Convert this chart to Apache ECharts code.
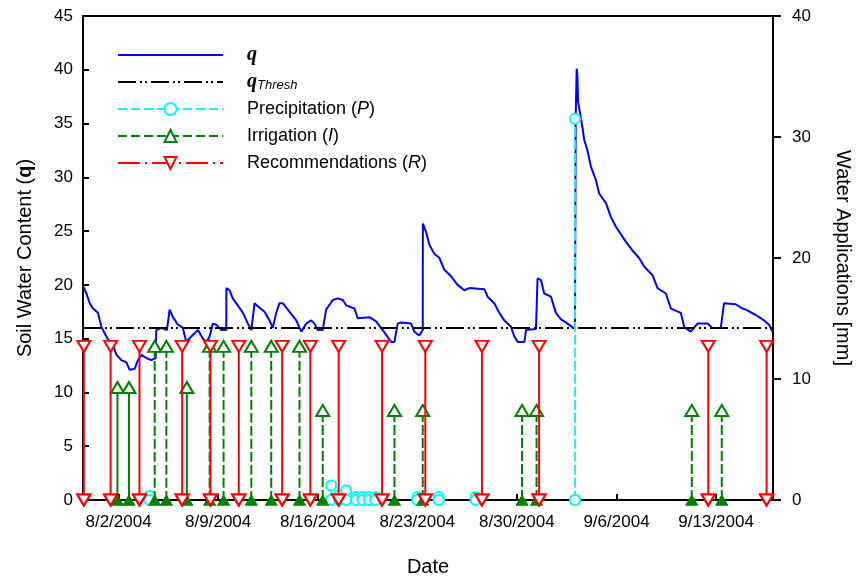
<!DOCTYPE html>
<html><head><meta charset="utf-8">
<script src="https://cdn.jsdelivr.net/npm/echarts@6/dist/echarts.min.js"></script>
<style>html,body{margin:0;padding:0;background:#fff}#c{width:857px;height:580px}</style>
</head><body><div id="c"></div>
<script>
// x values are days relative to 8/2/2004 (0 = 8/2/2004 00:00)
const xMin = -2.5, xMax = 46;
const xTickDays = [0, 7, 14, 21, 28, 35, 42];
const xTickLabels = ['8/2/2004', '8/9/2004', '8/16/2004', '8/23/2004', '8/30/2004', '9/6/2004', '9/13/2004'];

const thetaDays = [-2.50,-2.26,-2.03,-1.80,-1.45,-1.21,-0.86,-0.63,-0.39,-0.15,0.20,0.55,0.78,1.13,1.36,1.60,1.95,2.30,2.61,2.65,3.01,3.40,3.59,3.82,4.17,4.52,4.76,5.11,5.58,5.93,6.17,6.40,6.63,6.87,7.22,7.57,7.58,7.80,8.03,8.38,8.74,9.09,9.33,9.44,9.56,9.79,10.26,10.61,10.84,11.08,11.31,11.54,12.02,12.49,12.84,13.19,13.54,13.77,14.00,14.35,14.59,15.06,15.41,15.76,16.00,16.58,16.81,17.63,18.10,18.57,19.16,19.39,19.62,19.86,20.56,20.79,21.14,21.38,21.39,21.62,21.85,22.20,22.55,22.90,23.37,23.83,24.30,24.66,25.71,25.94,26.41,26.76,27.11,27.58,27.82,28.05,28.52,28.64,29.34,29.45,29.69,29.92,30.39,30.74,31.10,31.56,31.91,32.08,32.13,32.20,32.25,32.30,32.40,32.50,32.61,32.73,32.96,33.20,33.55,33.78,34.26,34.61,34.96,35.66,36.12,36.59,36.95,37.53,37.88,38.47,38.82,39.52,39.76,40.22,40.69,41.39,41.74,42.33,42.56,43.38,43.85,44.09,44.79,45.37,45.72,45.96];
const thetaValues = [19.9,19.2,18.3,17.8,17.4,16.1,15.2,14.7,14.4,13.5,13.0,12.8,12.1,12.2,13.0,13.5,13.2,13.0,13.2,15.8,16.0,15.8,17.7,17.0,16.3,16.0,14.7,15.2,15.8,15.0,14.7,15.2,16.4,16.3,15.8,15.8,19.7,19.5,18.75,18.1,17.4,16.4,15.8,15.8,18.3,18.0,17.5,16.7,16.0,17.4,18.3,18.3,17.5,16.7,15.65,16.4,16.7,16.4,15.8,15.8,17.7,18.6,18.75,18.6,18.1,17.8,16.9,17.0,16.6,15.8,14.7,14.7,16.4,16.5,16.4,15.65,15.3,15.8,25.7,24.9,23.7,22.9,22.5,21.4,20.8,20.0,19.5,19.7,19.6,18.9,18.3,17.4,16.7,16.1,15.2,14.7,14.7,15.8,15.9,20.6,20.45,19.2,18.9,17.4,16.8,16.4,16.05,15.9,35.5,40.1,39.5,37.0,37.0,35.5,34.6,33.5,32.5,31.0,29.75,28.5,27.6,26.3,25.4,24.0,23.2,22.5,21.7,20.9,19.7,19.2,17.8,17.4,16.1,15.65,16.4,16.4,16.0,16.0,18.3,18.2,17.8,17.7,17.2,16.7,16.3,15.65];

const thresholdValue = 16;

const precipDays = [2.18,14.94,15.52,16.00,16.70,17.15,17.60,18.05,21.00,22.50,25.10,32.08];
const precipValues = [0.33,1.2,0.4,0.8,0.25,0.25,0.25,0.25,0.25,0.25,0.25,31.5];

const irrigDays = [-0.08,0.73,2.54,3.36,4.80,6.40,7.38,9.33,10.73,12.72,14.35,19.39,21.38,28.36,29.38,40.29,42.40];
const irrigValues = [9.3,9.3,12.7,12.7,9.3,12.7,12.7,12.7,12.7,12.7,7.4,7.4,7.4,7.4,7.4,7.4,7.4];

const recDays = [-2.44,-0.56,1.47,4.47,6.46,8.45,11.50,13.48,15.47,18.52,21.56,25.54,29.56,41.45,45.55];
const recValues = [12.7,12.7,12.7,12.7,12.7,12.7,12.7,12.7,12.7,12.7,12.7,12.7,12.7,12.7,12.7];

function stems(days, vals, bottomExtra) {
  const out = [];
  days.forEach((d, i) => {
    out.push(bottomExtra ? Object.assign({ value: [d, 0] }, bottomExtra) : [d, 0]);
    out.push([d, vals[i]]);
    out.push(bottomExtra ? Object.assign({ value: [d, 0] }, bottomExtra) : [d, 0]);
    out.push([d, null]);
  });
  return out;
}

const FONT = 'Liberation Sans, Arial, sans-serif';
const chart = echarts.init(document.getElementById('c'), null, { renderer: 'canvas' });
const legendFmt = {
  'q': '{qb|q}',
  'qThresh': '{qb|q}{sub|Thresh}',
  'Precipitation (P)': 'Precipitation ({it|P})',
  'Irrigation (I)': 'Irrigation ({it|I})',
  'Recommendations (R)': 'Recommendations ({it|R})'
};
chart.setOption({
  animation: false,
  backgroundColor: '#fff',
  grid: { left: 83, right: 84, top: 16, bottom: 80, show: true, borderColor: '#000', borderWidth: 2, backgroundColor: 'transparent', outerBoundsMode: 'none', containLabel: false },
  legend: {
    orient: 'vertical', left: 117, top: 45, padding: 0, itemWidth: 105, itemHeight: 15, itemGap: 7,
    data: [
      { name: 'q', itemStyle: { opacity: 0 } },
      { name: 'qThresh', itemStyle: { opacity: 0 } },
      'Precipitation (P)', 'Irrigation (I)', 'Recommendations (R)'
    ],
    formatter: n => legendFmt[n],
    textStyle: {
      fontSize: 18, fontFamily: FONT, color: '#000', lineHeight: 20, padding: [0, 0, 0, 19],
      rich: {
        qb: { fontFamily: 'Liberation Serif, Times New Roman, serif', fontWeight: 'bold', fontStyle: 'italic', fontSize: 20, color: '#000' },
        sub: { fontFamily: FONT, fontStyle: 'italic', fontSize: 13, color: '#000', verticalAlign: 'bottom', padding: [8, 0, 0, 0] },
        it: { fontFamily: FONT, fontStyle: 'italic', fontSize: 18, color: '#000' }
      }
    }
  },
  xAxis: {
    type: 'value', min: xMin, max: xMax,
    name: 'Date', nameLocation: 'middle', nameGap: 57,
    nameTextStyle: { fontSize: 20, fontFamily: FONT, color: '#000' },
    axisLine: { onZero: false, lineStyle: { color: '#000', width: 2 } },
    axisTick: { inside: true, length: 6, customValues: xTickDays, lineStyle: { color: '#000', width: 2 } },
    axisLabel: { customValues: xTickDays, formatter: v => xTickLabels[xTickDays.indexOf(v)] || '', fontSize: 17, fontFamily: FONT, color: '#000', margin: 14 },
    splitLine: { show: false }
  },
  yAxis: [
    {
      type: 'value', min: 0, max: 45, interval: 5, position: 'left',
      name: 'Soil Water Content ({b|q})', nameLocation: 'middle', nameGap: 48,
      nameTextStyle: { fontSize: 20, fontFamily: FONT, color: '#000', rich: { b: { fontSize: 20, fontWeight: 'bold', fontFamily: FONT, color: '#000' } } },
      axisLine: { show: true, onZero: false, lineStyle: { color: '#000', width: 2 } },
      axisTick: { inside: true, length: 6, lineStyle: { color: '#000', width: 2 } },
      axisLabel: { fontSize: 17, fontFamily: FONT, color: '#000', margin: 10 },
      splitLine: { show: false }
    },
    {
      type: 'value', min: 0, max: 40, interval: 10, position: 'right',
      name: 'Water Applications [mm]', nameLocation: 'middle', nameGap: 60, nameRotate: -90,
      nameTextStyle: { fontSize: 20, fontFamily: FONT, color: '#000' },
      axisLine: { show: true, onZero: false, lineStyle: { color: '#000', width: 2 } },
      axisTick: { inside: false, length: 8, lineStyle: { color: '#000', width: 2 } },
      axisLabel: { fontSize: 17, fontFamily: FONT, color: '#000', margin: 19 },
      splitLine: { show: false }
    }
  ],
  series: [
    {
      name: 'q', type: 'line', yAxisIndex: 0, symbol: 'none',
      data: thetaDays.map((d, i) => [d, thetaValues[i]]),
      lineStyle: { color: '#0000ff', width: 2 }, itemStyle: { color: '#0000ff' }, z: 2
    },
    {
      name: 'qThresh', type: 'line', yAxisIndex: 0, symbol: 'none',
      data: [[xMin, thresholdValue], [xMax, thresholdValue]],
      lineStyle: { color: '#000', width: 2, type: [18, 4, 2, 3, 2, 4] }, itemStyle: { color: '#000' }, z: 2
    },
    {
      name: 'Precipitation (P)', type: 'line', yAxisIndex: 1, symbol: 'emptyCircle', symbolSize: 10,
      data: stems(precipDays, precipValues), connectNulls: false,
      lineStyle: { color: '#00ffff', width: 2, type: [9, 4] }, itemStyle: { color: '#00ffff', borderWidth: 2 }, z: 3
    },
    {
      name: 'Irrigation (I)', type: 'line', yAxisIndex: 1, symbol: 'emptyTriangle', symbolSize: [13, 11],
      data: stems(irrigDays, irrigValues, { symbol: 'triangle' }), connectNulls: false,
      lineStyle: { color: '#008000', width: 2, type: [9, 4] }, itemStyle: { color: '#008000', borderWidth: 2 }, z: 4
    },
    {
      name: 'Recommendations (R)', type: 'line', yAxisIndex: 1, symbol: 'emptyTriangle', symbolSize: [13, 11], symbolRotate: 180,
      data: stems(recDays, recValues), connectNulls: false,
      lineStyle: { color: '#ff0000', width: 2, type: [22, 5, 2, 5] }, itemStyle: { color: '#ff0000', borderWidth: 2 }, z: 5
    }
  ]
});
</script></body></html>
